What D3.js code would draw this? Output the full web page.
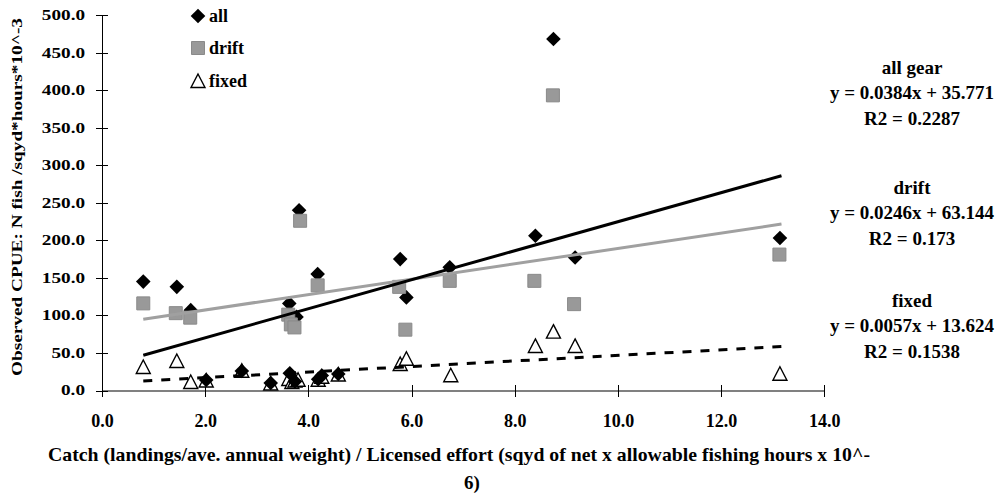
<!DOCTYPE html>
<html>
<head>
<meta charset="utf-8">
<script src="https://cdn.jsdelivr.net/npm/d3@7"></script>
<style>
  html, body { margin: 0; padding: 0; background: #fff; }
  svg { display: block; }
  text { font-family: "Liberation Serif", "Times New Roman", serif; font-weight: bold; fill: #000; }
</style>
</head>
<body>
<svg id="chart" width="1002" height="494"></svg>
<script>
// Observed CPUE vs. catch per licensed effort, by gear type
const allX    = [0.80, 1.45, 1.72, 2.02, 2.71, 3.27, 3.63, 3.64, 3.74, 3.77, 3.82, 4.18, 4.19, 4.26, 4.58, 5.78, 5.90, 6.74, 8.40, 8.75, 9.17, 13.14];
const allY    = [145, 138, 107, 14, 26, 10, 116, 23, 12, 98, 240, 155, 15, 20, 22, 175, 124, 164, 206, 468, 177, 203];

const driftX  = [0.80, 1.43, 1.71, 3.61, 3.66, 3.73, 3.84, 4.18, 5.76, 5.88, 6.74, 8.38, 8.74, 9.15, 13.13];
const driftY  = [116, 103, 97, 101, 88, 84, 226, 140, 138, 81, 146, 146, 393, 115, 181];

const fixedX  = [0.80, 1.45, 1.72, 2.02, 2.71, 3.27, 3.62, 3.68, 3.74, 3.80, 4.19, 4.26, 4.58, 5.78, 5.90, 6.76, 8.40, 8.75, 9.17, 13.14];
const fixedY  = [30, 38, 10, 12, 25, 8, 14, 10, 12, 13, 13, 17, 20, 34, 41, 19, 58, 77, 58, 21];

// Linear trend lines (start / end of the fitted range)
const trendX      = [0.80, 13.17];
const trendAllY   = [47, 286];
const trendDriftY = [95, 221.6];
const trendFixedY = [12.7, 58.5];

const xTicks = [0, 2, 4, 6, 8, 10, 12, 14];
const yTicks = [0, 50, 100, 150, 200, 250, 300, 350, 400, 450, 500];

const legendLabels = ["all", "drift", "fixed"];
const fitTitles = ["all gear", "drift", "fixed"];
const fitEquations = ["y = 0.0384x + 35.771", "y = 0.0246x + 63.144", "y = 0.0057x + 13.624"];
const fitR2 = ["R2 = 0.2287", "R2 = 0.173", "R2 = 0.1538"];

const svg = d3.select("#chart");
const x = d3.scaleLinear().domain([0, 14]).range([102, 824.3]);
const y = d3.scaleLinear().domain([0, 500]).range([390.5, 15]);

const GREY = "#999999";

// Axes
const xAxis = svg.append("g").attr("transform", `translate(0,${y(0)})`)
  .call(d3.axisBottom(x).tickValues(xTicks).tickSizeInner(6).tickSizeOuter(0).tickFormat(d => d.toFixed(1)));
xAxis.select(".domain").attr("stroke", "#808080").attr("stroke-width", 1.5);
xAxis.selectAll(".tick line").attr("y1", -6).attr("y2", 6).attr("stroke", "#000");
xAxis.selectAll(".tick text").attr("y", 24).attr("font-size", 18)
  .style("font-family", "'Liberation Serif', serif").style("font-weight", "bold");

const yAxis = svg.append("g").attr("transform", `translate(${x(0)},0)`)
  .call(d3.axisLeft(y).tickValues(yTicks).tickSizeInner(6).tickSizeOuter(0).tickFormat(d => d.toFixed(1)));
yAxis.select(".domain").attr("stroke", "#000").attr("stroke-width", 1.2);
yAxis.selectAll(".tick line").attr("x1", -6).attr("x2", 6).attr("stroke", "#000");
yAxis.selectAll(".tick text").attr("x", -17).attr("font-size", 14)
  .style("font-family", "'Liberation Serif', serif").style("font-weight", "bold")
  .each(function() {
    // labels are drawn wide: stretch glyphs horizontally
    const w = this.getComputedTextLength();
    d3.select(this).attr("textLength", w * 1.37).attr("lengthAdjust", "spacingAndGlyphs");
  });
svg.selectAll(".domain, .tick line").attr("shape-rendering", "crispEdges");

// Axis titles
svg.append("text")
  .attr("transform", "translate(22,197) rotate(-90)")
  .attr("text-anchor", "middle").attr("font-size", 15)
  .attr("textLength", 358).attr("lengthAdjust", "spacingAndGlyphs")
  .text("Observed CPUE: N fish /sqyd*hours*10^-3");

svg.append("text")
  .attr("x", 459).attr("y", 461).attr("text-anchor", "middle").attr("font-size", 19)
  .attr("textLength", 822).attr("lengthAdjust", "spacingAndGlyphs")
  .text("Catch (landings/ave. annual weight) / Licensed effort (sqyd of net x allowable fishing hours x 10^-");
svg.append("text")
  .attr("x", 472).attr("y", 489).attr("text-anchor", "middle").attr("font-size", 19)
  .text("6)");

// Marker shapes
const diamondPath = "M0,-7.3L7.3,0L0,7.3L-7.3,0Z";
const squarePath = "M-6.5,-6.5H6.5V6.5H-6.5Z";
const trianglePath = "M0,-7L7,6.5H-7Z";

function drawTriangles(g, xs, ys) {
  g.selectAll(null).data(xs).enter().append("path")
    .attr("d", trianglePath)
    .attr("transform", (d, i) => `translate(${x(d)},${y(ys[i]) - 1})`)
    .attr("fill", "#fff").attr("stroke", "#000").attr("stroke-width", 1.4);
}
function drawDiamonds(g, xs, ys) {
  g.selectAll(null).data(xs).enter().append("path")
    .attr("d", diamondPath)
    .attr("transform", (d, i) => `translate(${x(d)},${y(ys[i])})`)
    .attr("fill", "#000");
}
function drawSquares(g, xs, ys) {
  g.selectAll(null).data(xs).enter().append("path")
    .attr("d", squarePath)
    .attr("transform", (d, i) => `translate(${x(d)},${y(ys[i])})`)
    .attr("fill", GREY).attr("stroke", "#8a8a8a").attr("stroke-width", 1);
}

const marks = svg.append("g");
drawTriangles(marks.append("g"), fixedX, fixedY);
drawDiamonds(marks.append("g"), allX, allY);
drawSquares(marks.append("g"), driftX, driftY);

// Trend lines
const line = d3.line().x(d => x(d[0])).y(d => y(d[1]));
svg.append("path").datum(trendX.map((v, i) => [v, trendDriftY[i]]))
  .attr("d", line).attr("stroke", "#a0a0a0").attr("stroke-width", 3).attr("fill", "none");
svg.append("path").datum(trendX.map((v, i) => [v, trendAllY[i]]))
  .attr("d", line).attr("stroke", "#000").attr("stroke-width", 3).attr("fill", "none");
svg.append("path").datum(trendX.map((v, i) => [v, trendFixedY[i]]))
  .attr("d", line).attr("stroke", "#000").attr("stroke-width", 3).attr("fill", "none")
  .attr("stroke-dasharray", "9,9");

// Legend
const legend = svg.append("g").attr("transform", "translate(198,0)");
const legendY = [16, 48, 81];
legend.append("path").attr("d", diamondPath).attr("transform", `translate(0,${legendY[0]})`).attr("fill", "#000");
legend.append("path").attr("d", squarePath).attr("transform", `translate(0,${legendY[1]})`)
  .attr("fill", GREY).attr("stroke", "#8a8a8a");
legend.append("path").attr("d", trianglePath).attr("transform", `translate(0,${legendY[2]})`)
  .attr("fill", "#fff").attr("stroke", "#000").attr("stroke-width", 1.4);
legend.selectAll("text").data(legendLabels).enter().append("text")
  .attr("x", 11).attr("y", (d, i) => legendY[i] + 6)
  .attr("font-size", 18).text(d => d);

// Regression annotations
const annoTop = [67, 187, 300];
fitTitles.forEach((t, i) => {
  const g = svg.append("g").attr("transform", `translate(912,${annoTop[i]})`).attr("text-anchor", "middle");
  g.append("text").attr("y", 6.5).attr("font-size", 19).text(t);
  g.append("text").attr("y", 32).attr("font-size", 19).text(fitEquations[i]);
  g.append("text").attr("y", 58).attr("font-size", 19).text(fitR2[i]);
});
</script>
</body>
</html>
